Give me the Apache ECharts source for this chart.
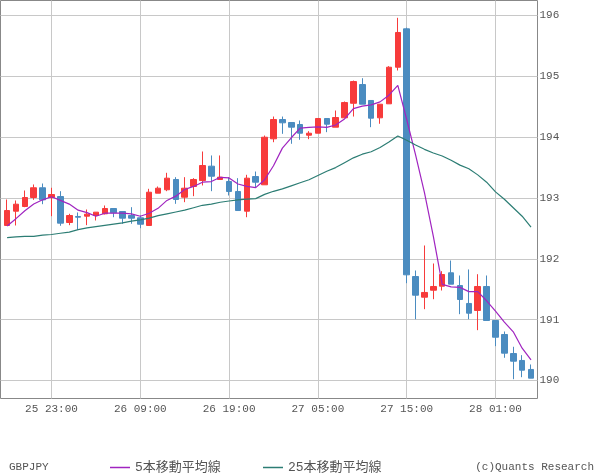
<!DOCTYPE html>
<html>
<head>
<meta charset="utf-8">
<script src="https://cdn.jsdelivr.net/npm/echarts@6/dist/echarts.min.js"></script>
<style>
html,body{margin:0;padding:0;background:#fff;}
#chart{width:600px;height:475px;}
</style>
</head>
<body>
<div id="chart"></div>
<script>
// Hourly candles, index 0 = 25 18:00 ... index 59 = 28 05:00
const tickIdx = [5, 15, 25, 35, 45, 55];
const tickLabels = ['25 23:00', '26 09:00', '26 19:00', '27 05:00', '27 15:00', '28 01:00'];
const yTicks = [190, 191, 192, 193, 194, 195, 196];

const open = [192.548,192.783,192.860,193.008,193.168,193.008,193.024,192.597,192.696,192.701,
192.712,192.740,192.827,192.778,192.712,192.674,192.548,193.079,193.135,193.304,
193.013,193.189,193.288,193.523,193.304,193.271,193.107,192.783,193.353,193.217,
193.973,194.290,194.241,194.208,194.032,194.065,194.307,194.164,194.318,194.557,
194.865,194.603,194.318,194.548,195.150,195.781,191.709,191.369,191.484,191.550,
191.770,191.561,191.266,191.151,191.545,190.986,190.756,190.443,190.329,190.181];
const close = [192.794,192.898,193.008,193.168,192.970,193.057,192.586,192.712,192.684,192.734,
192.767,192.827,192.757,192.668,192.668,192.569,193.095,193.161,193.326,192.975,
193.161,193.304,193.534,193.358,193.342,193.107,192.794,193.326,193.260,193.999,
194.290,194.236,194.164,194.065,194.065,194.307,194.213,194.323,194.569,194.914,
194.542,194.312,194.542,195.150,195.721,191.737,191.402,191.447,191.545,191.742,
191.583,191.331,191.106,191.545,190.986,190.711,190.449,190.317,190.169,190.038];
const low = [192.540,192.548,192.849,192.970,192.898,192.701,192.543,192.553,192.477,192.553,
192.630,192.729,192.684,192.576,192.576,192.503,192.548,193.079,193.112,192.904,
192.931,193.030,193.206,193.112,193.304,193.041,192.794,192.684,193.168,193.217,
193.917,194.055,193.891,193.957,193.967,194.065,194.082,194.164,194.318,194.339,
194.542,194.164,194.220,194.548,195.096,191.599,191.007,191.172,191.336,191.479,
191.583,191.090,191.007,190.827,190.986,190.564,190.373,190.021,190.054,190.038];
const high = [192.975,192.959,193.123,193.222,193.238,193.168,193.112,192.740,192.762,192.811,
192.767,192.877,192.827,192.778,192.849,192.712,193.151,193.189,193.414,193.342,
193.342,193.326,193.764,193.699,193.699,193.342,193.326,193.381,193.435,194.027,
194.339,194.339,194.241,194.274,194.098,194.307,194.307,194.438,194.586,194.930,
194.969,194.603,194.542,195.167,195.962,195.800,191.808,192.219,191.923,191.797,
191.972,191.726,191.825,191.747,191.726,190.986,190.805,190.554,190.416,190.263];
const ma5 = [192.54,192.66,192.79,192.90,192.97,193.02,192.96,192.90,192.80,192.76,
192.70,192.75,192.75,192.75,192.74,192.70,192.75,192.83,192.96,193.03,
193.14,193.19,193.26,193.27,193.34,193.33,193.23,193.19,193.17,193.30,
193.53,193.82,193.99,194.15,194.16,194.17,194.16,194.20,194.30,194.47,
194.51,194.53,194.58,194.69,194.85,194.29,193.71,193.09,192.37,191.58,
191.54,191.53,191.46,191.46,191.31,191.14,190.96,190.80,190.53,190.34];
const ma25 = [192.35,192.36,192.37,192.37,192.39,192.40,192.42,192.44,192.48,192.51,
192.53,192.55,192.57,192.59,192.62,192.64,192.67,192.71,192.74,192.77,
192.80,192.84,192.88,192.90,192.93,192.95,192.97,192.98,192.99,193.06,
193.11,193.15,193.20,193.25,193.30,193.37,193.44,193.50,193.58,193.66,
193.72,193.76,193.83,193.92,194.02,193.95,193.87,193.80,193.74,193.69,
193.62,193.54,193.48,193.38,193.26,193.10,192.98,192.84,192.70,192.52];

const RED = '#f73b3b', BLUE = '#4b8cc0', PURPLE = '#a024c0', TEAL = '#2c7d74';
const MONO = "'Liberation Mono','DejaVu Sans Mono','Noto Sans CJK JP',monospace";
const TXT = '#555';

const chart = echarts.init(document.getElementById('chart'), null, {renderer: 'canvas'});
chart.setOption({
  animation: false,
  backgroundColor: '#fff',
  title: [
    {text: 'GBPJPY', left: 9, top: 462, padding: 0,
     textStyle: {fontSize: 11, fontWeight: 'normal', color: TXT, fontFamily: MONO}},
    {text: '(c)Quants Research', right: 6, top: 462, padding: 0,
     textStyle: {fontSize: 11, fontWeight: 'normal', color: TXT, fontFamily: MONO}}
  ],
  legend: [
    {data: [{name: '5本移動平均線', itemStyle: {color: PURPLE}}], left: 110, top: 461, padding: 0, icon: 'rect', itemWidth: 20, itemHeight: 1.5,
     textStyle: {fontSize: 13, color: TXT, fontFamily: MONO}},
    {data: [{name: '25本移動平均線', itemStyle: {color: TEAL}}], left: 263, top: 461, padding: 0, icon: 'rect', itemWidth: 20, itemHeight: 1.5,
     textStyle: {fontSize: 13, color: TXT, fontFamily: MONO}}
  ],
  grid: {left: 0.5, top: 0.5, right: 62.5, bottom: 76.5, show: true, borderColor: '#888', borderWidth: 1, backgroundColor: 'transparent'},
  xAxis: {
    type: 'value', min: -0.743, max: 59.73,
    axisLine: {show: false},
    axisTick: {show: false, customValues: tickIdx},
    axisLabel: {customValues: tickIdx, margin: 5, fontSize: 11, color: TXT, fontFamily: MONO,
      formatter: v => tickLabels[tickIdx.indexOf(Math.round(v))]},
    splitLine: {show: true, lineStyle: {color: '#c8c8c8', width: 1}}
  },
  yAxis: {
    type: 'value', position: 'right', min: 189.7037, max: 196.2466, scale: true,
    axisLine: {show: false},
    axisTick: {show: false, customValues: yTicks},
    axisLabel: {customValues: yTicks, margin: 2, fontSize: 11, color: TXT, fontFamily: MONO, padding: [8, 0, 0, 0]},
    splitLine: {show: true, lineStyle: {color: '#c8c8c8', width: 1}}
  },
  series: [
    {type: 'candlestick', name: 'GBPJPY',
     data: open.map((o, i) => [i, o, close[i], low[i], high[i]]),
     barWidth: 6,
     itemStyle: {color: RED, color0: BLUE, borderColor: RED, borderColor0: BLUE, borderColorDoji: RED, borderWidth: 1}},
    {type: 'line', name: '5本移動平均線', data: ma5.map((v, i) => [i, v]), symbol: 'none',
     itemStyle: {color: PURPLE}, lineStyle: {color: PURPLE, width: 1.2}},
    {type: 'line', name: '25本移動平均線', data: ma25.map((v, i) => [i, v]), symbol: 'none',
     itemStyle: {color: TEAL}, lineStyle: {color: TEAL, width: 1.2}}
  ]
});
</script>
</body>
</html>
